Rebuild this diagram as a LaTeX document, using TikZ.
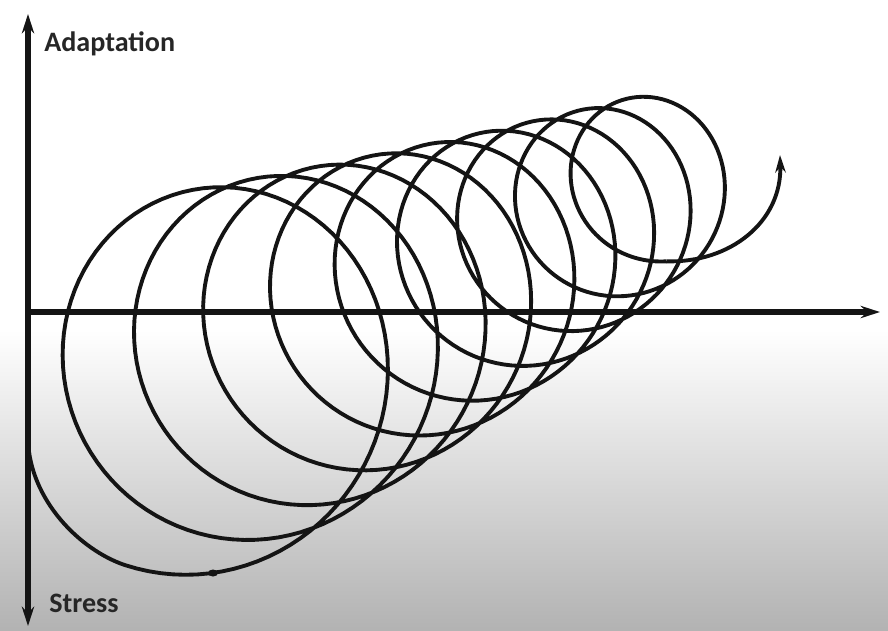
\documentclass[tikz,border=0pt]{standalone}
\usepackage{fontspec}
\setmainfont{Carlito}
\usetikzlibrary{arrows.meta,positioning}

\begin{document}
\begin{tikzpicture}[
    x=0.02cm, y=-0.02cm,
    axis/.style={line width=3pt, black!92, >={Stealth[length=11pt, width=7pt]}},
    coil/.style={line width=2.2pt, black!92, line join=round, >={Stealth[length=10pt, width=6pt]}},
    lbl/.style={font=\bfseries\fontsize{16}{19}\selectfont, text=black!85, inner sep=0pt, anchor=west},
    declare function={
        cx(\a)=238+61.25*((\a-540)/360)-1.125*((\a-540)/360)^2;
        rx(\a)=175-11.25*((\a-540)/360);
        cy(\a)=378-23.06*((\a-360)/360);
        ry(\a)=188-11.76*((\a-360)/360);
    }
]
\useasboundingbox (0,0) rectangle (888,630);
% grey paper at the bottom
\shade[top color=white, bottom color=black!30] (0,330) rectangle (888,630);

% axes
\coordinate (O) at (28,312);
\coordinate (ytop) at (28,14);
\coordinate (ybot) at (28,626);
\coordinate (xend) at (880,312);

% the coil
\coordinate (start) at (28,440);
\coordinate (c0) at ({cx(250)+rx(250)*cos(250)},{cy(250)-ry(250)*sin(250)});
\coordinate (c1) at ({cx(3510)},{cy(3510)+ry(3510)});
\coordinate (end) at (780,155);
\draw[coil] (start) .. controls (30,500) and (80,550) .. (c0)
    -- plot[domain=250:3510, samples=900, variable=\t]
       ({cx(\t)+rx(\t)*cos(\t)},{cy(\t)-ry(\t)*sin(\t)});
\draw[coil, ->] (c1) .. controls (730,263) and (782,222) .. (end);
\fill[black!92] (213,573) ellipse (5 and 3.5);

\draw[axis, <->] (ytop) -- (ybot);
\draw[axis, ->] (O) -- (xend);

\node[lbl] (adapt) at (44,44) {Adaptation};
\node[lbl] (stress) at (49,603) {Stress};
\end{tikzpicture}
\end{document}
